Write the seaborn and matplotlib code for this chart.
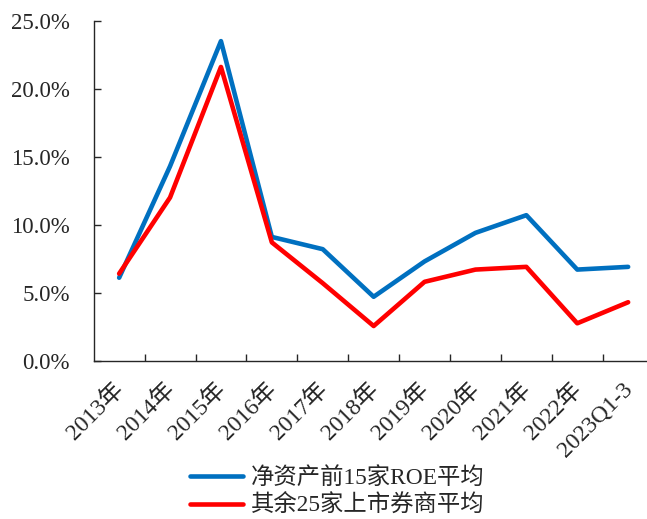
import matplotlib
matplotlib.use("Agg")
import matplotlib.pyplot as plt
import matplotlib.transforms as mtransforms
from matplotlib.ticker import FixedLocator, PercentFormatter
import seaborn as sns
import pandas as pd

# Periods on the x axis
periods = ["2013年", "2014年", "2015年", "2016年", "2017年", "2018年",
           "2019年", "2020年", "2021年", "2022年", "2023Q1-3"]

# Average ROE (%) of the two broker groups
series_names = ["净资产前15家ROE平均", "其余25家上市券商平均"]
top15_roe = [6.1, 14.3, 23.5, 9.1, 8.2, 4.7, 7.3, 9.4, 10.7, 6.7, 6.9]
other25_roe = [6.4, 12.0, 21.6, 8.7, 5.7, 2.55, 5.8, 6.7, 6.9, 2.75, 4.3]

y_ticks = [0, 5, 10, 15, 20, 25]

df = pd.DataFrame({
    "period": periods * 2,
    "pos": list(range(len(periods))) * 2,
    "roe": top15_roe + other25_roe,
    "group": [series_names[0]] * len(periods) + [series_names[1]] * len(periods),
})

sns.set_theme(style="white")
plt.rcParams["font.family"] = ["Liberation Serif", "Noto Sans CJK SC", "DejaVu Sans"]

W, H, DPI = 647, 519, 100
fig = plt.figure(figsize=(W / DPI, H / DPI), dpi=DPI)
ax = fig.add_axes([93.7 / W, 1 - 360.7 / H, (653.6 - 93.7) / W, (360.7 - 20.7) / H])

sns.lineplot(data=df, x="pos", y="roe", hue="group", hue_order=series_names,
             palette=["#0070C0", "#FF0000"], linewidth=3.3, ax=ax,
             legend=True, sort=False)

ax.set_xlim(-0.5, 10.5)
ax.set_ylim(0, 25)
ax.set_xlabel("")
ax.set_ylabel("")

for side in ["top", "right"]:
    ax.spines[side].set_visible(False)
for side in ["left", "bottom"]:
    ax.spines[side].set_color("#262626")
    ax.spines[side].set_linewidth(1.0)

# y axis: percent labels, inward ticks
ax.set_yticks(y_ticks)
ax.yaxis.set_major_formatter(PercentFormatter(decimals=1))
ax.tick_params(axis="y", which="major", direction="in", length=5, width=1,
               color="#262626", labelsize=16.5, pad=17, left=True)

# x axis: labels at category centres, ticks at category boundaries
ax.set_xticks(range(len(periods)))
ax.set_xticklabels(periods)
ax.xaxis.set_minor_locator(FixedLocator([i + 0.5 for i in range(len(periods) - 1)]))
ax.tick_params(axis="x", which="major", length=0, labelsize=17, pad=13)
ax.tick_params(axis="x", which="minor", direction="in", length=5, width=1,
               color="#262626", bottom=True)
offset = mtransforms.ScaledTranslation(9 / DPI, 0, fig.dpi_scale_trans)
for lbl in ax.get_xticklabels():
    lbl.set_rotation(45)
    lbl.set_ha("right")
    lbl.set_va("top")
    lbl.set_transform(lbl.get_transform() + offset)

# Legend below the plot
handles, labels = ax.get_legend_handles_labels()
ax.get_legend().remove()
fig.legend(handles, labels, loc="center",
           bbox_to_anchor=(337 / W, 1 - 492 / H),
           frameon=False, fontsize=16.8, handlelength=2.3, handletextpad=0.3,
           labelspacing=0.25, borderpad=0.2, ncol=1)

fig.savefig("out.png", dpi=DPI)
